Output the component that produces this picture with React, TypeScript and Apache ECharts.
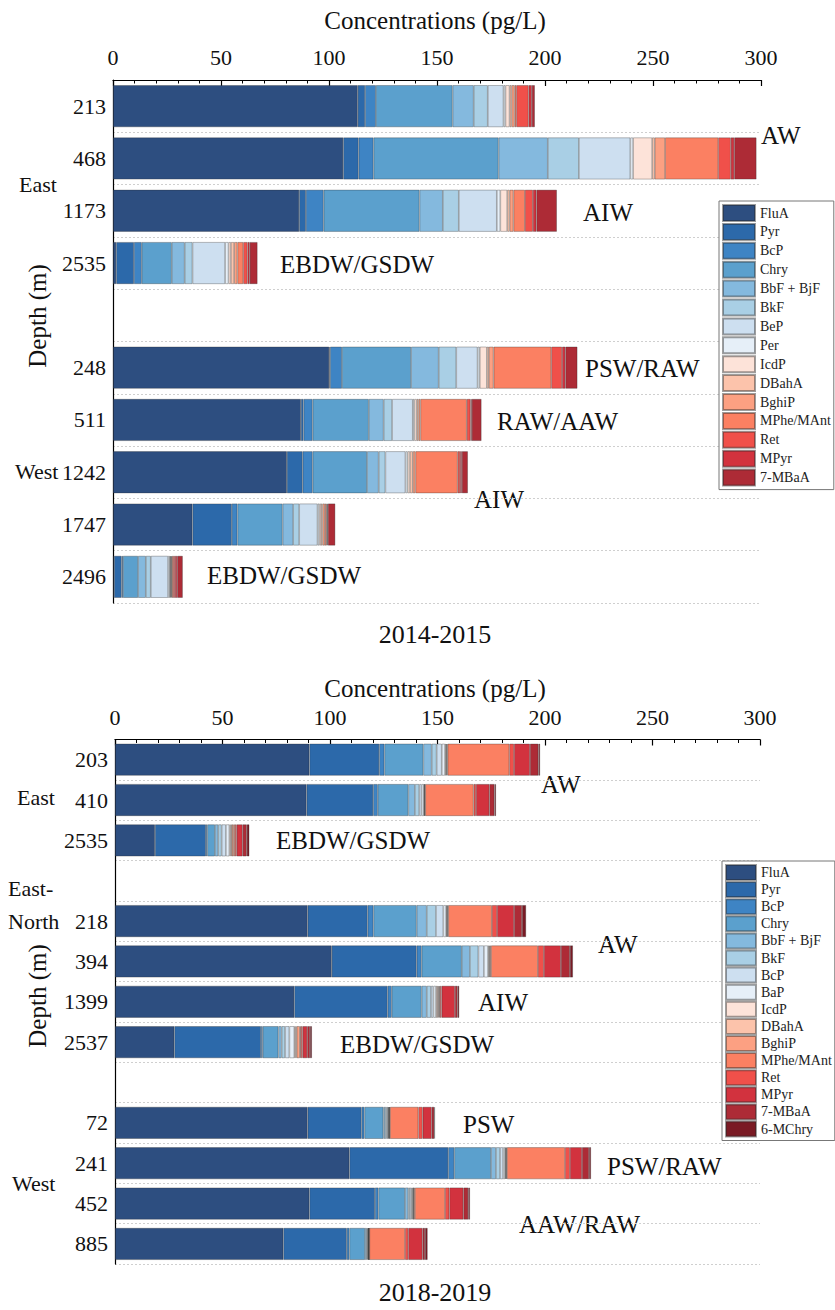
import React, { useEffect, useRef } from "react";
import * as echarts from "echarts";

const FONT = "Liberation Serif, Times New Roman, serif";

// ---------- categories ----------
const TOP_DEPTHS = ["213", "468", "1173", "2535", "", "248", "511", "1242", "1747", "2496"];
const BOTTOM_DEPTHS = ["203", "410", "2535", " ", "218", "394", "1399", "2537", "  ", "72", "241", "452", "885"];

const TOP_COMPOUNDS = ["FluA", "Pyr", "BcP", "Chry", "BbF + BjF", "BkF", "BeP", "Per", "IcdP", "DBahA", "BghiP", "MPhe/MAnt", "Ret", "MPyr", "7-MBaA"];
const BOTTOM_COMPOUNDS = ["FluA", "Pyr", "BcP", "Chry", "BbF + BjF", "BkF", "BeP", "BaP", "IcdP", "DBahA", "BghiP", "MPhe/MAnt", "Ret", "MPyr", "7-MBaA", "6-MChry"];

const COLORS: Record<string, string> = {
  "FluA": "#2d4e80",
  "Pyr": "#2c69aa",
  "BcP": "#3e84c4",
  "Chry": "#5ba0cd",
  "BbF + BjF": "#84b9de",
  "BkF": "#a9cfe5",
  "BeP": "#cddff0",
  "Per": "#e6eff8",
  "BaP": "#e6eff8",
  "IcdP": "#fde3d9",
  "DBahA": "#fcc3ab",
  "BghiP": "#fca082",
  "MPhe/MAnt": "#fb8062",
  "Ret": "#f0504a",
  "MPyr": "#d2323e",
  "7-MBaA": "#ad2b36",
  "6-MChry": "#7a1a24",
};

// ---------- 2014-2015 values (pg/L), order = TOP_COMPOUNDS ----------
const t213 = [113.3, 3.4, 5.0, 35.5, 9.8, 6.5, 7.3, 0.9, 1.9, 0.9, 1.4, 0.8, 5.7, 1.5, 1.4];
const t468 = [106.6, 7.1, 6.9, 57.9, 22.8, 14.4, 23.8, 1.3, 8.8, 1.2, 4.8, 24.6, 5.8, 1.6, 10.3];
const t1173 = [86.2, 3.1, 8.2, 44.4, 10.8, 7.4, 17.6, 1.6, 3.2, 1.1, 1.8, 5.3, 3.7, 1.6, 9.5];
const t2535 = [1.5, 8.2, 3.6, 13.9, 6.0, 3.6, 15.1, 1.6, 1.1, 1.5, 1.5, 2.7, 2.0, 1.0, 3.6];
const t248 = [100.1, 0.4, 5.5, 32.0, 12.8, 8.1, 9.9, 1.0, 3.3, 0.9, 2.2, 26.7, 5.0, 1.5, 5.6];
const t511 = [87.0, 1.2, 4.2, 26.0, 6.9, 3.9, 9.6, 0.7, 1.1, 0.8, 0.9, 21.5, 1.7, 0.6, 4.5];
const t1242 = [80.5, 7.3, 4.6, 25.2, 5.4, 3.1, 9.3, 1.0, 1.1, 1.3, 1.2, 19.6, 1.1, 0.8, 2.8];
const t1747 = [36.8, 18.2, 2.6, 20.9, 4.9, 2.8, 8.5, 0.8, 0.8, 0.7, 1.1, 0.8, 0.3, 0.3, 3.4];
const t2496 = [0.5, 3.5, 0.6, 7.0, 3.6, 2.3, 8.0, 0.8, 0.3, 0.3, 0.3, 0.6, 0.9, 1.0, 2.6];
const TOP_ROWS = [t213, t468, t1173, t2535, null, t248, t511, t1242, t1747, t2496];

// ---------- 2018-2019 values (pg/L), order = BOTTOM_COMPOUNDS ----------
const b203 = [90.4, 32.5, 2.4, 18.1, 3.9, 2.3, 2.4, 1.5, 0.5, 0.3, 0.4, 28.7, 2.2, 7.4, 3.9, 0.8];
const b410 = [89.1, 31.0, 2.1, 14.2, 3.1, 2.0, 1.1, 1.1, 0.2, 0.2, 0.2, 22.5, 1.1, 6.2, 2.4, 0.7];
const b2535 = [18.6, 23.7, 0.6, 3.6, 1.5, 1.6, 2.0, 1.6, 0.6, 0.5, 0.7, 0.8, 0.8, 2.8, 1.9, 1.2];
const b218 = [89.6, 27.9, 2.7, 20.1, 4.7, 4.3, 3.4, 1.3, 0.4, 0.3, 0.3, 20.3, 2.4, 7.9, 3.7, 1.9];
const b394 = [100.8, 39.5, 2.3, 18.7, 3.8, 3.9, 2.6, 1.9, 0.5, 0.4, 0.5, 21.8, 2.8, 7.9, 4.2, 1.4];
const b1399 = [83.4, 43.4, 1.9, 13.9, 2.4, 2.0, 1.1, 1.2, 0.6, 0.5, 0.4, 0.4, 0.7, 6.2, 1.3, 0.7];
const b2537 = [27.6, 40.3, 0.8, 7.3, 1.5, 1.6, 2.0, 2.3, 0.5, 0.6, 1.5, 0.5, 0.8, 2.1, 1.3, 0.9];
const b72 = [89.6, 25.1, 1.3, 8.8, 0.8, 0.8, 0.6, 0.3, 0.2, 0.2, 0.2, 13.2, 2.0, 4.2, 1.2, 0.3];
const b241 = [109.0, 46.0, 2.8, 17.1, 2.3, 1.9, 1.4, 0.9, 0.3, 0.3, 0.3, 27.0, 2.3, 5.6, 3.3, 0.9];
const b452 = [90.4, 30.5, 1.6, 12.4, 1.5, 0.8, 0.8, 0.4, 0.4, 0.1, 0.6, 14.0, 2.0, 6.5, 2.3, 0.8];
const b885 = [78.3, 29.5, 1.2, 7.3, 0.8, 0.4, 0.3, 0.2, 0.1, 0.1, 0.1, 16.6, 1.5, 6.7, 1.1, 1.2];
const BOTTOM_ROWS = [b203, b410, b2535, null, b218, b394, b1399, b2537, null, b72, b241, b452, b885];

const X_TICKS_MAX = 300;

function buildOption() {
  const barStyle = (name: string) => ({
    color: COLORS[name],
    borderColor: "rgba(40,40,40,0.45)",
    borderWidth: 0.7,
  });

  const topSeries = TOP_COMPOUNDS.map((name, i) => ({
    type: "bar",
    name,
    stack: "top",
    xAxisIndex: 0,
    yAxisIndex: 0,
    barWidth: 42,
    itemStyle: barStyle(name),
    data: TOP_ROWS.map((r) => (r ? r[i] : "-")),
  }));
  const bottomSeries = BOTTOM_COMPOUNDS.map((name, i) => ({
    type: "bar",
    name,
    stack: "bottom",
    xAxisIndex: 1,
    yAxisIndex: 1,
    barWidth: 32,
    itemStyle: barStyle(name),
    data: BOTTOM_ROWS.map((r) => (r ? r[i] : "-")),
  }));

  const xAxisBase = (gridIndex: number, margin: number) => ({
    type: "value",
    gridIndex,
    position: "top",
    min: 0,
    max: X_TICKS_MAX,
    interval: 50,
    axisLine: { show: true, lineStyle: { color: "#000", width: 1.2 } },
    axisTick: { show: true, inside: true, length: 6, lineStyle: { color: "#000", width: 1.2 } },
    minorTick: { show: true, splitNumber: 5, length: 3.5, lineStyle: { color: "#000", width: 1 } },
    splitLine: { show: false },
    minorSplitLine: { show: false },
    axisLabel: { margin, fontSize: 22, fontFamily: FONT, color: "#111" },
  });

  const yAxisBase = (gridIndex: number, data: string[]) => ({
    type: "category",
    gridIndex,
    inverse: true,
    data,
    axisLine: { show: true, lineStyle: { color: "#000", width: 1.2 } },
    axisTick: { show: false },
    axisLabel: { interval: 0, margin: 7, fontSize: 22, fontFamily: FONT, color: "#111" },
    splitLine: { show: true, interval: 0, lineStyle: { type: [2, 2], color: "#cfcfcf", width: 1 } },
  });

  const txt = (text: string, x: number, y: number, fontSize: number, align = "left", extra: any = {}) => ({
    type: "text",
    x,
    y,
    ...extra,
    style: {
      text,
      fontSize,
      fontFamily: FONT,
      fill: "#111",
      align,
      verticalAlign: "middle",
    },
  });

  const graphics = [
    txt("Concentrations (pg/L)", 435, 20, 25, "center"),
    txt("2014-2015", 435, 634, 26, "center"),
    txt("Concentrations (pg/L)", 435, 688, 25, "center"),
    txt("2018-2019", 435, 1292, 26, "center"),
    txt("Depth (m)", 37, 316, 25, "center", { rotation: Math.PI / 2 }),
    txt("Depth (m)", 37, 996, 25, "center", { rotation: Math.PI / 2 }),
    txt("East", 19, 184, 22),
    txt("West", 15, 471, 22),
    txt("East", 17, 797, 22),
    txt("East-", 8, 888, 22),
    txt("North", 8, 921, 22),
    txt("West", 12, 1183, 22),
    // water mass annotations, 2014-2015
    txt("AW", 761, 135, 25),
    txt("AIW", 583, 212, 25),
    txt("EBDW/GSDW", 280, 264, 25),
    txt("PSW/RAW", 585, 368, 25),
    txt("RAW/AAW", 497, 421, 25),
    txt("AIW", 474, 499, 25),
    txt("EBDW/GSDW", 207, 575, 25),
    // water mass annotations, 2018-2019
    txt("AW", 541, 784, 25),
    txt("EBDW/GSDW", 276, 840, 25),
    txt("AW", 598, 944, 25),
    txt("AIW", 478, 1002, 25),
    txt("EBDW/GSDW", 340, 1044, 25),
    txt("PSW", 463, 1124, 25),
    txt("PSW/RAW", 607, 1166, 25),
    txt("AAW/RAW", 519, 1224, 25),
  ];

  const legendBase = {
    orient: "vertical",
    icon: "rect",
    borderColor: "#777",
    borderWidth: 1,
    backgroundColor: "#fff",
  };

  return {
    animation: false,
    backgroundColor: "#fff",
    textStyle: { fontFamily: FONT },
    grid: [
      { left: 113, top: 80, width: 648, height: 523, containLabel: false },
      { left: 115, top: 739.5, width: 645, height: 524.6, containLabel: false },
    ],
    xAxis: [xAxisBase(0, 12), xAxisBase(1, 11)],
    yAxis: [yAxisBase(0, TOP_DEPTHS), yAxisBase(1, BOTTOM_DEPTHS)],
    legend: [
      {
        ...legendBase,
        data: TOP_COMPOUNDS,
        left: 719,
        top: 201,
        itemWidth: 32,
        itemHeight: 16,
        itemGap: 0.9,
        padding: [3, 3, 3, 3],
        textStyle: { fontFamily: FONT, fontSize: 14, lineHeight: 16, color: "#222" },
      },
      {
        ...legendBase,
        data: BOTTOM_COMPOUNDS,
        left: 722,
        top: 861,
        itemWidth: 30,
        itemHeight: 15,
        itemGap: 0.1,
        padding: [3, 3, 3, 3],
        textStyle: { fontFamily: FONT, fontSize: 14, lineHeight: 15, color: "#222" },
        formatter: (n: string) => (n === "BeP" ? "BcP" : n),
      },
    ],
    graphic: graphics,
    series: [...topSeries, ...bottomSeries],
  };
}

export default function App() {
  const ref = useRef<HTMLDivElement>(null);
  useEffect(() => {
    if (!ref.current) return;
    const chart = echarts.init(ref.current, null, { renderer: "svg" });
    chart.setOption(buildOption() as any);
    return () => chart.dispose();
  }, []);
  return (
    <div
      ref={ref}
      style={{ position: "absolute", left: 0, top: 0, width: 835, height: 1310, background: "#fff" }}
    />
  );
}
